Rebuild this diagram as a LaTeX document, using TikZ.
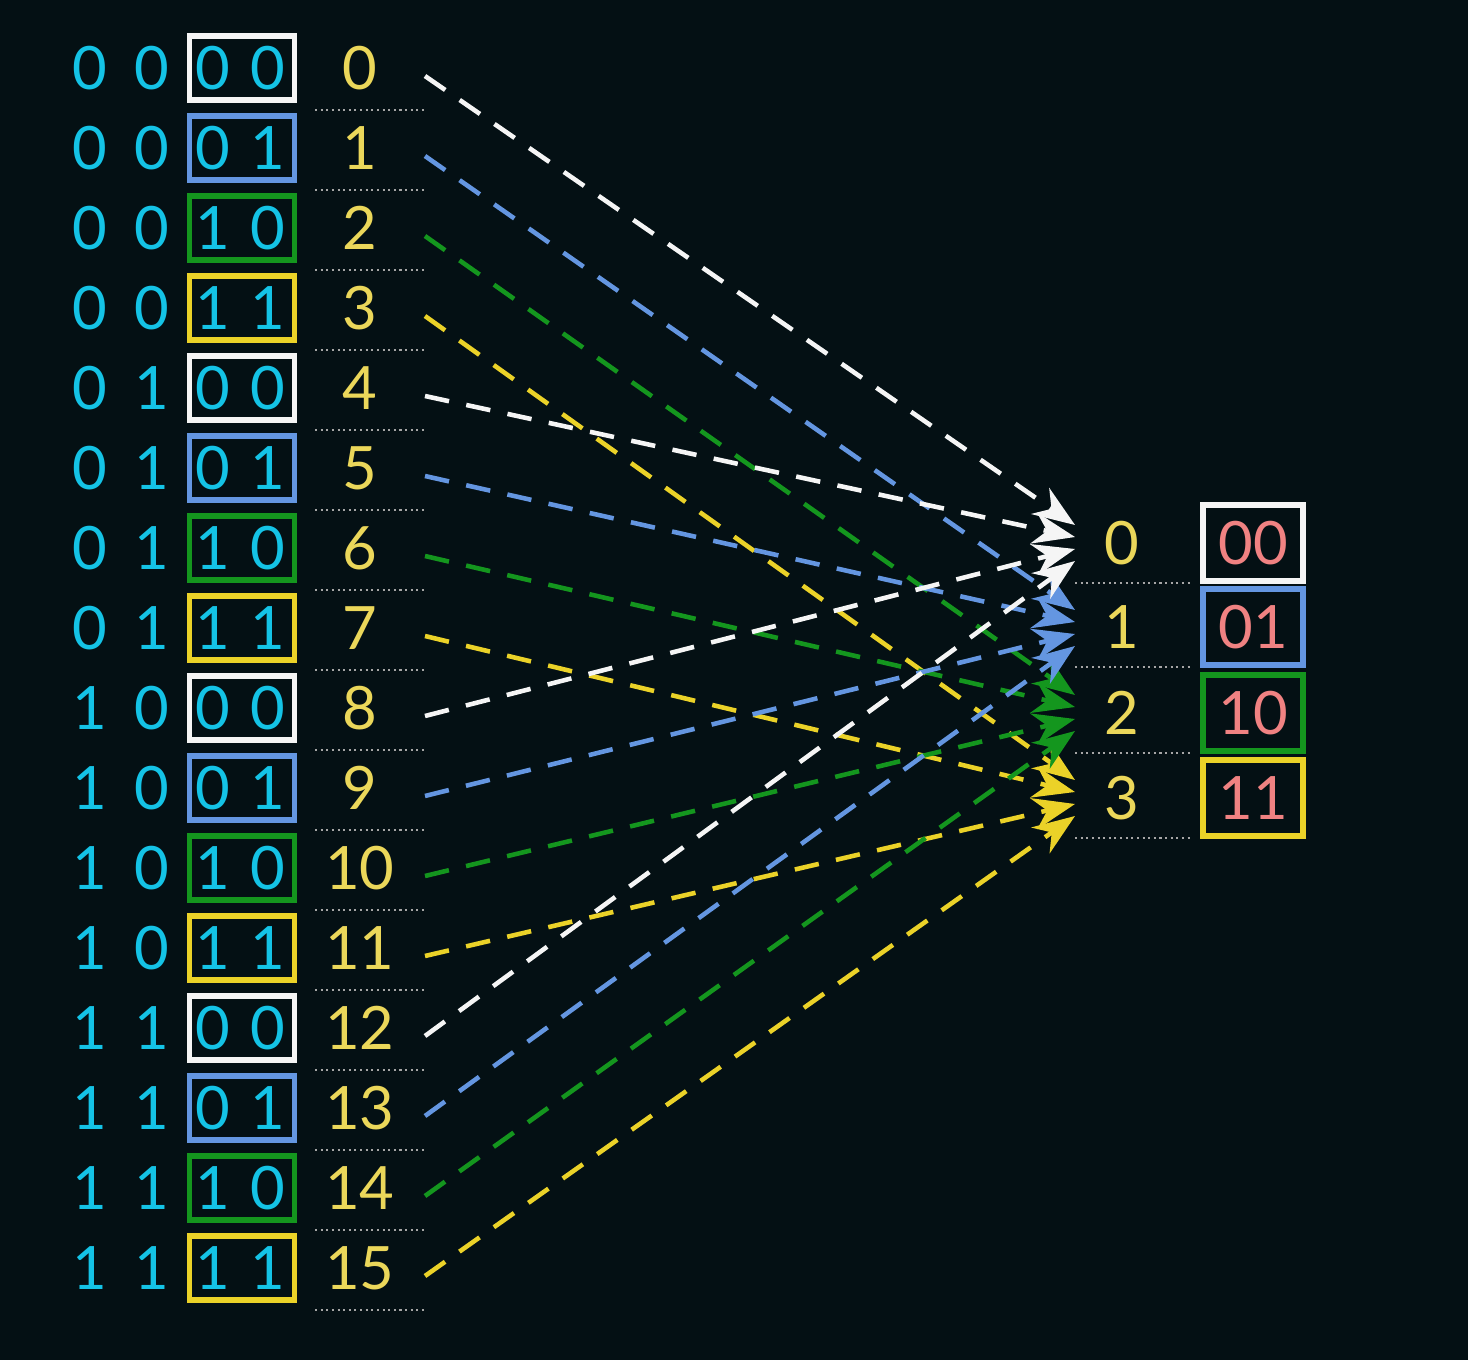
\documentclass[tikz,border=0pt]{standalone}
\usepackage{fontspec}
\setmainfont{Lato}
\usetikzlibrary{positioning,arrows.meta}
\definecolor{bgc}{RGB}{4,16,20}
\definecolor{cyanbit}{RGB}{20,195,230}
\definecolor{numyel}{RGB}{235,215,90}
\definecolor{cw}{RGB}{245,245,245}
\definecolor{cb}{RGB}{100,150,225}
\definecolor{cg}{RGB}{20,150,30}
\definecolor{cy}{RGB}{235,210,40}
\definecolor{pinky}{RGB}{240,130,130}
\begin{document}
\begin{tikzpicture}[x=0.01cm,y=-0.01cm,
bit/.style={text=cyanbit,font=\fontsize{17}{17}\selectfont},
num/.style={text=numyel,font=\fontsize{17}{17}\selectfont},
lowbox/.style={draw=#1,line width=1.6pt,minimum width=1.05cm,minimum height=0.64cm,inner sep=0pt},
hashbox/.style={draw=#1,line width=1.6pt,minimum width=1.0cm,minimum height=0.76cm,inner sep=0pt,text=pinky,font=\fontsize{17}{17}\selectfont},
dotline/.style={densely dotted,draw=gray!70,line width=0.6pt},
link/.style={dashed,draw=#1,line width=1.3pt,dash pattern=on 7pt off 5pt,-{Stealth[length=12pt,width=9pt]}}]
\fill[bgc] (0,0) rectangle (1468,1360);
\useasboundingbox (0,0) rectangle (1468,1360);
% hash slots on the right
\foreach \k/\c/\lab/\y in {0/cw/00/543,1/cb/01/627,2/cg/10/713,3/cy/11/798}{
  \node (slot\k) [num] at (1122,\y) {\k};
  \node (hb\k) [hashbox=\c] at (1253,\y) {\lab};
  \coordinate (sl\k) at (1075,\y+40);
  \coordinate (sr\k) at (1190,\y+40);
  \draw[dotline] (sl\k) -- (sr\k);
}
% keys on the left
\foreach \i in {0,...,15}{
  \pgfmathtruncatemacro{\hi}{int(\i/4)}
  \pgfmathtruncatemacro{\lo}{mod(\i,4)}
  \pgfmathtruncatemacro{\ba}{int(\hi/2)}
  \pgfmathtruncatemacro{\bb}{mod(\hi,2)}
  \pgfmathtruncatemacro{\bc}{int(\lo/2)}
  \pgfmathtruncatemacro{\bd}{mod(\lo,2)}
  \pgfmathsetmacro{\y}{68+80*\i}
  \ifcase\lo \def\c{cw}\or \def\c{cb}\or \def\c{cg}\or \def\c{cy}\fi
  \node (a\i) [bit] at (90,\y) {\ba};
  \node (b\i) [bit] at (152,\y) {\bb};
  \node (box\i) [lowbox=\c] at (242,\y) {};
  \node (c\i) [bit] at (213,\y) {\bc};
  \node (d\i) [bit] at (268,\y) {\bd};
  \node (key\i) [num] at (360,\y) {\i};
  \coordinate (kl\i) at (315,\y+42);
  \coordinate (kr\i) at (425,\y+42);
  \draw[dotline] (kl\i) -- (kr\i);
  \coordinate (src\i) at (425,\y+8);
  \pgfmathsetmacro{\ty}{543-18+12*\hi+85*\lo}
  \coordinate (dst\i) at (1075,\ty);
  \draw[link=\c] (src\i) -- (dst\i);
}
\end{tikzpicture}
\end{document}
